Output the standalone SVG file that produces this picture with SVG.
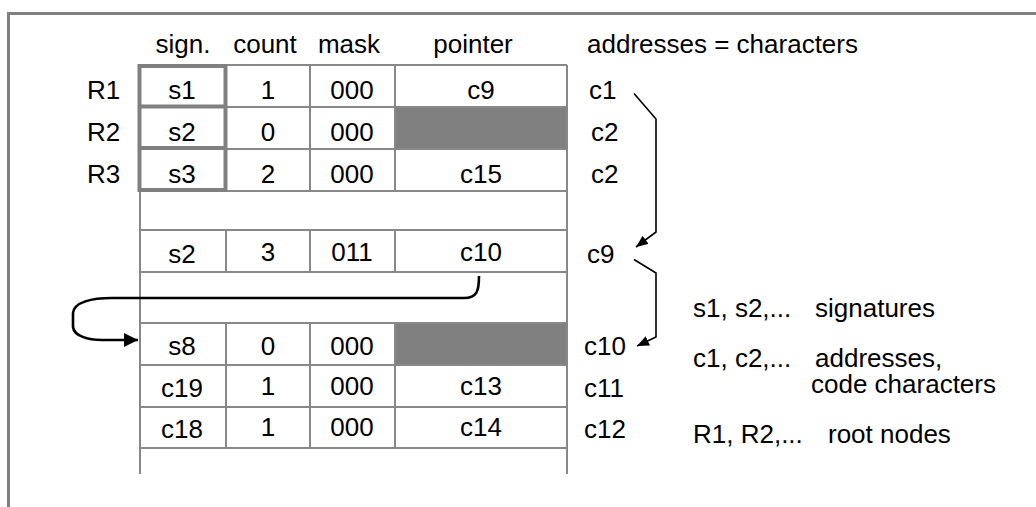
<svg xmlns="http://www.w3.org/2000/svg" width="1036" height="507" viewBox="0 0 1036 507">
  <style>
    text { font-family: "Liberation Sans", Arial, sans-serif; font-size: 26px; fill: #000; }
    .c { text-anchor: middle; }
    .grid { stroke: #888; stroke-width: 2; fill: none; }
    .root { stroke: #808080; stroke-width: 4; fill: none; }
    .shade { fill: #808080; }
    .frame { stroke: #808080; stroke-width: 3; fill: none; }
    .link { stroke: #000; stroke-width: 1.6; fill: none; }
    .jump { stroke: #000; stroke-width: 2.6; fill: none; }
  </style>
  <defs>
    <marker id="tri" viewBox="0 0 12 10" refX="12" refY="5" markerWidth="12" markerHeight="10" markerUnits="userSpaceOnUse" orient="auto">
      <path d="M0,0 L12,5 L0,10 Z" fill="#000"/>
    </marker>
    <marker id="triBig" viewBox="0 0 14 14" refX="14" refY="7" markerWidth="14" markerHeight="14" markerUnits="userSpaceOnUse" orient="auto">
      <path d="M0,0 L14,7 L0,14 Z" fill="#000"/>
    </marker>
  </defs>

  <!-- outer frame (top and left edges) -->
  <path class="frame" d="M8.5,507 L8.5,13.5 L1036,13.5"/>

  <!-- header -->
  <g id="header">
    <text class="c" x="183" y="53">sign.</text>
    <text class="c" x="265" y="53">count</text>
    <text class="c" x="349" y="53">mask</text>
    <text class="c" x="473" y="53">pointer</text>
    <text x="587" y="53">addresses = characters</text>
  </g>

  <!-- table -->
  <g id="table">
    <rect class="shade" x="395" y="107" width="172" height="42"/>
    <rect class="shade" x="395" y="323" width="172" height="42"/>
    <!-- outer verticals -->
    <line class="grid" x1="140" y1="65" x2="140" y2="474"/>
    <line class="grid" x1="567" y1="65" x2="567" y2="474"/>
    <!-- row rules -->
    <g class="grid">
      <line x1="140" y1="65" x2="567" y2="65"/>
      <line x1="140" y1="107" x2="567" y2="107"/>
      <line x1="140" y1="149" x2="567" y2="149"/>
      <line x1="140" y1="191" x2="567" y2="191"/>
      <line x1="140" y1="230" x2="567" y2="230"/>
      <line x1="140" y1="272" x2="567" y2="272"/>
      <line x1="140" y1="323" x2="567" y2="323"/>
      <line x1="140" y1="365" x2="567" y2="365"/>
      <line x1="140" y1="407" x2="567" y2="407"/>
      <line x1="140" y1="448" x2="567" y2="448"/>
      <!-- column rules -->
      <path d="M226,65 V191 M310,65 V191 M395,65 V191"/>
      <path d="M226,230 V272 M310,230 V272 M395,230 V272"/>
      <path d="M226,323 V448 M310,323 V448 M395,323 V448"/>
    </g>
    <!-- root signature cells -->
    <g class="root">
      <rect x="139.5" y="66" width="86" height="124"/>
      <line x1="139.5" y1="106.5" x2="225.5" y2="106.5"/>
      <line x1="139.5" y1="148" x2="225.5" y2="148"/>
    </g>
  </g>

  <!-- root labels -->
  <g id="roots">
    <text x="87" y="99">R1</text>
    <text x="87" y="141">R2</text>
    <text x="87" y="183">R3</text>
  </g>

  <!-- row contents -->
  <g id="row-c1">
    <text class="c" x="182" y="99">s1</text>
    <text class="c" x="268" y="99">1</text>
    <text class="c" x="352" y="99">000</text>
    <text class="c" x="481" y="99">c9</text>
    <text x="589" y="99">c1</text>
  </g>
  <g id="row-c2a">
    <text class="c" x="182" y="141">s2</text>
    <text class="c" x="268" y="141">0</text>
    <text class="c" x="352" y="141">000</text>
    <text x="591" y="141">c2</text>
  </g>
  <g id="row-c2b">
    <text class="c" x="182" y="183">s3</text>
    <text class="c" x="268" y="183">2</text>
    <text class="c" x="352" y="183">000</text>
    <text class="c" x="481" y="183">c15</text>
    <text x="591" y="183">c2</text>
  </g>
  <g id="row-c9">
    <text class="c" x="182" y="263">s2</text>
    <text class="c" x="268" y="261">3</text>
    <text class="c" x="352" y="261">011</text>
    <text class="c" x="481" y="261">c10</text>
    <text x="587" y="263">c9</text>
  </g>
  <g id="row-c10">
    <text class="c" x="182" y="355">s8</text>
    <text class="c" x="268" y="355">0</text>
    <text class="c" x="352" y="355">000</text>
    <text x="584" y="355">c10</text>
  </g>
  <g id="row-c11">
    <text class="c" x="182" y="397">c19</text>
    <text class="c" x="268" y="395">1</text>
    <text class="c" x="352" y="395">000</text>
    <text class="c" x="481" y="395">c13</text>
    <text x="584" y="397">c11</text>
  </g>
  <g id="row-c12">
    <text class="c" x="182" y="438">c18</text>
    <text class="c" x="268" y="436">1</text>
    <text class="c" x="352" y="436">000</text>
    <text class="c" x="481" y="436">c14</text>
    <text x="584" y="438">c12</text>
  </g>

  <!-- legend -->
  <g id="legend">
    <text x="693" y="317">s1, s2,...</text>
    <text x="815" y="317">signatures</text>
    <text x="693" y="367">c1, c2,...</text>
    <text x="815" y="367">addresses,</text>
    <text x="811" y="393">code characters</text>
    <text x="693" y="443">R1, R2,...</text>
    <text x="828" y="443">root nodes</text>
  </g>

  <!-- connectors -->
  <g id="connectors">
    <path class="link" d="M634,93.5 L656,119 L656,232 L636,247" marker-end="url(#tri)"/>
    <path class="link" d="M634,259.5 L656,273 L656,337 L637,346" marker-end="url(#tri)"/>
    <path class="jump" d="M479,276 C479,291 477,298 464,298 L112,298 C92,298 74,302 73,313 L73,327 C74,336 88,340 102,340 L138,340" marker-end="url(#triBig)"/>
  </g>
</svg>
